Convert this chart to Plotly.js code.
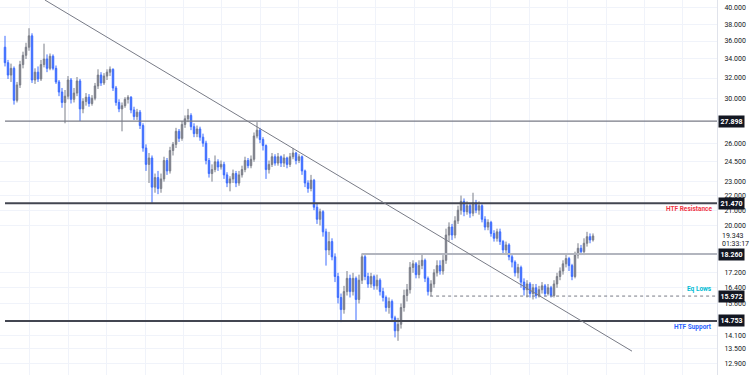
<!DOCTYPE html>
<html>
<head>
<meta charset="utf-8">
<script src="https://cdn.plot.ly/plotly-3.0.1.min.js"></script>
<style>html,body{margin:0;padding:0;background:#fff;}#chart{width:750px;height:375px;}</style>
</head>
<body>
<div id="chart"></div>
<script>
// ---- data ----
const openP = [
35.3,33.6,32.3,33.0,29.8,31.3,33.4,34.4,35.3,36.6,
31.8,32.6,31.9,33.4,34.0,33.0,34.3,33.0,31.6,30.6,
29.6,30.2,31.8,29.9,30.5,31.7,29.0,29.7,30.1,29.5,
30.0,31.2,32.3,31.5,32.2,32.6,32.9,31.0,29.6,29.0,
29.3,29.9,30.1,28.9,28.3,28.7,27.5,25.6,24.3,24.8,
22.6,23.3,22.5,23.2,24.6,23.8,25.4,25.9,27.0,26.4,
27.6,28.1,28.4,27.4,26.8,27.2,26.5,26.0,24.6,23.6,
23.9,24.5,24.1,24.3,23.5,22.9,23.2,23.6,22.9,23.5,
23.9,24.6,24.2,24.7,26.6,27.1,26.3,25.8,23.9,24.3,
24.9,24.4,24.9,24.4,24.8,24.3,24.9,25.2,24.6,24.9,
23.8,22.9,22.5,23.1,21.2,20.4,20.9,19.6,18.5,19.0,
18.1,17.0,15.9,15.3,16.2,16.9,16.2,16.9,15.8,16.8,
18.1,17.0,16.6,17.0,16.5,16.8,16.2,15.9,15.4,15.7,
14.9,14.3,14.6,15.4,16.0,16.3,17.5,17.7,17.1,17.6,
17.9,16.9,16.2,16.6,17.2,17.6,17.3,17.9,19.4,19.9,
19.4,20.3,21.0,21.6,20.9,21.3,20.8,21.5,21.0,21.3,
20.4,19.9,20.2,19.5,19.2,19.6,19.0,18.5,18.8,18.1,
17.8,17.2,17.5,16.7,16.3,16.6,16.1,16.4,16.0,16.3,
16.5,16.1,16.4,16.0,16.6,17.0,17.3,17.7,18.0,17.6,
17.0,18.2,18.6,18.4,18.9,19.3,19.1
];
const highP = [
36.6,33.9,33.5,33.2,31.6,33.8,34.8,35.8,37.5,36.9,
33.0,33.2,33.9,35.7,34.5,34.6,34.5,33.3,31.8,31.0,
30.8,32.2,32.0,31.0,32.1,31.9,30.0,30.5,30.4,30.3,
31.5,32.9,32.6,32.5,32.9,33.2,33.0,31.2,29.9,29.6,
30.1,30.3,30.2,29.2,29.0,28.9,27.7,25.9,25.2,25.0,
23.6,23.8,23.6,24.9,24.8,25.7,26.1,27.3,27.2,27.9,
28.4,29.0,28.6,27.7,27.5,27.4,26.8,26.2,24.8,24.3,
25.0,24.7,24.6,24.5,23.7,23.4,23.9,23.8,23.8,24.2,
24.9,24.8,25.0,26.9,27.8,27.3,26.5,25.9,24.6,25.2,
25.1,25.2,25.0,25.1,24.9,25.2,25.6,25.3,25.1,25.0,
23.9,23.1,23.5,23.2,21.5,21.1,21.0,19.8,19.6,19.2,
18.3,17.2,16.1,16.5,17.3,17.1,17.2,17.0,17.1,18.3,
18.2,17.2,17.2,17.1,17.1,16.9,16.4,16.0,15.9,15.8,
15.0,14.9,15.6,16.3,16.6,17.8,17.9,17.8,17.9,18.3,
18.0,17.0,16.8,17.4,17.9,17.9,18.2,19.8,20.2,20.1,
20.6,21.3,22.0,21.8,21.6,21.5,22.2,21.7,21.6,21.4,
20.6,20.4,20.3,19.7,19.8,19.8,19.1,19.0,18.9,18.3,
17.9,17.7,17.6,16.9,16.8,16.7,16.6,16.6,16.5,16.7,
16.6,16.6,16.5,16.8,17.2,17.5,17.9,18.3,18.1,17.7,
18.4,18.9,18.8,19.2,19.6,19.5,19.5
];
const lowP = [
33.2,31.9,31.6,29.4,29.6,31.0,33.0,34.0,34.9,31.5,
31.4,31.6,31.7,33.1,32.6,32.8,32.8,31.4,30.2,29.1,
27.7,29.9,29.5,29.6,30.2,27.9,28.6,29.3,29.2,29.3,
29.8,30.9,31.2,31.3,31.8,32.2,30.7,29.3,28.7,27.0,
29.1,29.5,28.6,28.0,28.0,27.2,25.3,23.8,22.9,21.5,
22.2,22.1,22.2,23.0,23.5,23.6,25.0,25.6,26.1,26.2,
27.3,27.8,27.1,26.5,26.5,26.2,25.7,24.3,23.3,23.0,
23.7,23.8,23.9,23.2,22.6,22.3,22.9,22.6,22.7,23.3,
23.7,24.0,24.0,24.5,26.4,26.0,25.4,23.2,23.6,24.1,
24.2,24.2,24.1,24.1,24.0,24.1,24.7,24.3,24.4,23.5,
22.6,22.2,22.3,21.0,20.1,20.0,19.3,17.6,18.2,17.9,
16.7,15.6,14.7,15.1,16.0,15.9,16.0,14.8,15.6,16.6,
16.8,16.4,16.4,16.3,16.3,16.0,15.7,15.2,15.1,14.7,
14.0,13.85,14.4,15.2,15.7,16.1,17.2,16.9,16.9,17.4,
16.7,16.0,15.97,16.4,17.0,17.1,17.1,17.7,19.0,19.1,
19.2,20.1,20.7,20.6,20.7,20.5,20.6,20.8,20.7,20.2,
19.7,19.7,19.3,19.0,19.0,18.8,18.3,18.2,17.9,17.5,
17.0,16.9,16.4,16.0,15.9,15.9,15.8,15.85,15.9,16.1,
15.95,16.0,15.9,15.9,16.4,16.8,17.1,17.5,17.3,16.8,
16.9,18.0,18.2,18.2,18.7,18.9,19.0
];
const closeP = [
33.6,32.3,33.0,29.8,31.3,33.4,34.4,35.3,36.6,31.8,
32.6,31.9,33.4,34.0,33.0,34.3,33.0,31.6,30.6,29.6,
30.2,31.8,29.9,30.5,31.7,29.0,29.7,30.1,29.5,30.0,
31.2,32.3,31.5,32.2,32.6,32.9,31.0,29.6,29.0,29.3,
29.9,30.1,28.9,28.3,28.7,27.5,25.6,24.3,24.8,22.6,
23.3,22.5,23.2,24.6,23.8,25.4,25.9,27.0,26.4,27.6,
28.1,28.4,27.4,26.8,27.2,26.5,26.0,24.6,23.6,23.9,
24.5,24.1,24.3,23.5,22.9,23.2,23.6,22.9,23.5,23.9,
24.6,24.2,24.7,26.6,27.1,26.3,25.8,23.9,24.3,24.9,
24.4,24.9,24.4,24.8,24.3,24.9,25.2,24.6,24.9,23.8,
22.9,22.5,23.1,21.2,20.4,20.9,19.6,18.5,19.0,18.1,
17.0,15.9,15.3,16.2,16.9,16.2,16.9,15.8,16.8,18.1,
17.0,16.6,17.0,16.5,16.8,16.2,15.9,15.4,15.7,14.9,
14.3,14.6,15.4,16.0,16.3,17.5,17.7,17.1,17.6,17.9,
16.9,16.2,16.6,17.2,17.6,17.3,17.9,19.4,19.9,19.4,
20.3,21.0,21.6,20.9,21.3,20.8,21.5,21.0,21.3,20.4,
19.9,20.2,19.5,19.2,19.6,19.0,18.5,18.8,18.1,17.8,
17.2,17.5,16.7,16.3,16.6,16.1,16.4,16.0,16.3,16.5,
16.1,16.4,16.0,16.6,17.0,17.3,17.7,18.0,17.6,17.0,
18.2,18.6,18.4,18.9,19.3,19.1,19.343
];
const candleIdx = closeP.map((_, i) => i);

const tickValues = [40,38,36,34,32,30,26,24.5,23,22,21,20,17.2,16.4,15.6,14.1,13.5,12.9];
const tickLabels = ["40.000","38.000","36.000","34.000","32.000","30.000","26.000","24.500","23.000","22.000","21.000","20.000","17.200","16.400","15.600","14.100","13.500","12.900"];

const levelValues = [27.898, 21.470, 18.260, 15.972, 14.753];
const levelLabels = ["27.898", "21.470", "18.260", "15.972", "14.753"];
const levelNames  = ["", "HTF Resistance", "", "Eq Lows", "HTF Support"];
const lastPrice = 19.343;
const lastPriceText = "19.343";
const countdownText = "01:33:17";
// trendline anchors: [candle index, price]
const trendX = [13.3, 209];
const trendY = [41.03, 13.40];

// ---- drawing ----
const X_MIN = -1.667, X_MAX = 237.33;
const levelStart = [0, 0, 119, 141.7, 0];
const levelStyle = [
  {color:'#787b86', width:1.3},
  {color:'#434651', width:2},
  {color:'#b2b5be', width:2},
  {color:'#787b86', width:1, dash:'3px,3px'},
  {color:'#434651', width:2}
];
const nameColors = ['', '#f23645', '', '#00bcd4', '#2962ff'];

const traces = [];
levelValues.forEach((v, k) => {
  traces.push({type:'scatter', mode:'lines', x:[levelStart[k], X_MAX], y:[v, v],
    line:levelStyle[k], hoverinfo:'skip', showlegend:false});
});
traces.push({type:'scatter', mode:'lines', x:trendX, y:trendY,
  line:{color:'#787b86', width:1}, hoverinfo:'skip', showlegend:false});
traces.push({
  type:'candlestick', x:candleIdx, open:openP, high:highP, low:lowP, close:closeP,
  increasing:{line:{color:'#7b7e88', width:1}, fillcolor:'#7b7e88'},
  decreasing:{line:{color:'#3d6dff', width:1}, fillcolor:'#3d6dff'},
  whiskerwidth:0, hoverinfo:'skip', showlegend:false
});

const annotations = [];
levelValues.forEach((v, k) => {
  annotations.push({xref:'paper', x:1, xanchor:'left', xshift:1, yref:'y', y:Math.log10(v),
    yanchor:'middle', text:'<b>'+levelLabels[k]+'</b>', showarrow:false, bgcolor:'#131722',
    font:{family:'Roboto, Arial', size:7, color:'#ffffff'}, borderpad:1.5});
  if (levelNames[k]) {
    const below = (k !== 3);
    annotations.push({xref:'paper', x:0.996, xanchor:'right', yref:'y', y:Math.log10(v),
      yanchor: below ? 'top' : 'bottom', yshift: below ? 0 : 1,
      text:'<b>'+levelNames[k]+'</b>', showarrow:false,
      font:{family:'Roboto, Arial', size:6.5, color:nameColors[k]}});
  }
});
annotations.push({xref:'paper', x:1, xanchor:'left', xshift:3, yref:'y', y:Math.log10(lastPrice),
  yanchor:'middle', text:lastPriceText, showarrow:false,
  font:{family:'Roboto, Arial', size:7, color:'#131722'}});
annotations.push({xref:'paper', x:1, xanchor:'left', xshift:3, yref:'y', y:Math.log10(lastPrice),
  yanchor:'middle', yshift:-8, text:countdownText, showarrow:false,
  font:{family:'Roboto, Arial', size:7, color:'#131722'}});

const layout = {
  width:750, height:375,
  margin:{l:0, r:33, t:0, b:0, pad:0},
  paper_bgcolor:'#ffffff', plot_bgcolor:'#ffffff',
  showlegend:false, hovermode:false,
  xaxis:{range:[X_MIN, X_MAX], showticklabels:false, ticks:'', showgrid:true,
    gridcolor:'#f0f3fa', gridwidth:1, tick0:8.33, dtick:12.8, zeroline:false,
    rangeslider:{visible:false}, showline:false, fixedrange:true},
  yaxis:{type:'log', side:'right', range:[Math.log10(12.42), Math.log10(41.03)],
    tickmode:'array', tickvals:tickValues, ticktext:tickLabels,
    tickfont:{family:'Roboto, Arial', size:7, color:'#131722'},
    showgrid:true, gridcolor:'#f0f3fa', gridwidth:1, zeroline:false,
    showline:true, linecolor:'#e0e3eb', linewidth:1, ticks:'', ticklabelstandoff:5,
    fixedrange:true},
  annotations:annotations
};

Plotly.newPlot('chart', traces, layout, {staticPlot:true, displayModeBar:false});
</script>
</body>
</html>
